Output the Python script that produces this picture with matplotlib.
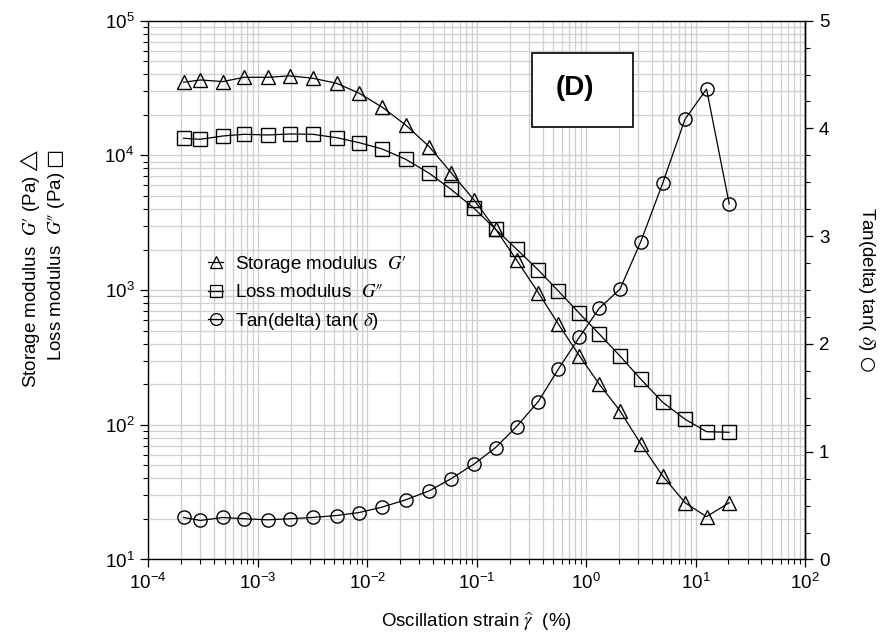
import matplotlib
matplotlib.use("Agg")
import matplotlib.pyplot as plt
from matplotlib.ticker import LogLocator, MultipleLocator, NullFormatter
from matplotlib.patches import Rectangle
from matplotlib.lines import Line2D

plt.rcParams['font.family'] = ['Liberation Sans', 'DejaVu Sans']
plt.rcParams['mathtext.fontset'] = 'stix'

strain = [2.1e-4, 3.0e-4, 4.8e-4, 7.5e-4, 1.23e-3, 1.98e-3, 3.18e-3, 5.26e-3, 8.47e-3,
          0.0137, 0.0225, 0.0369, 0.0583, 0.0946, 0.149, 0.232, 0.366, 0.557, 0.867,
          1.32, 2.04, 3.16, 5.01, 8.01, 12.6, 20.3]
storage = [34900, 36300, 35300, 38000, 38000, 38900, 37400, 34300, 28900, 22800, 16800,
           11600, 7460, 4670, 2830, 1670, 957, 560, 326, 200, 127, 72, 41.7, 26.4, 20.8, 26.4]
loss = [13400, 13170, 13930, 14340, 14170, 14420, 14340, 13530, 12420, 11160, 9350, 7360,
        5600, 4050, 2830, 2010, 1410, 985, 673, 472, 324, 218, 147, 110, 88.9, 88]
tan_delta = [0.390, 0.362, 0.390, 0.378, 0.368, 0.378, 0.390, 0.408, 0.436, 0.486, 0.554,
             0.637, 0.749, 0.885, 1.039, 1.234, 1.466, 1.766, 2.063, 2.332, 2.508, 2.950,
             3.492, 4.085, 4.366, 3.300]

FS = 13.5
fig = plt.figure(figsize=(8.9, 6.4), dpi=100)
ax = fig.add_axes([0.1666, 0.1258, 0.7379, 0.8419])
ax2 = ax.twinx()

mk = dict(color='black', lw=0.9, markerfacecolor='none', markeredgecolor='black',
          markeredgewidth=1.0, markersize=9.5)
l1, = ax.plot(strain, storage, marker='^', **mk)
l2, = ax.plot(strain, loss, marker='s', **mk)
l3, = ax2.plot(strain, tan_delta, marker='o', **mk)

ax.set_xscale('log')
ax.set_yscale('log')
ax.set_xlim(1e-4, 1e2)
ax.set_ylim(1e1, 1e5)
ax2.set_ylim(0, 5)

ax.xaxis.set_major_locator(LogLocator(base=10, numticks=20))
ax.xaxis.set_minor_locator(LogLocator(base=10, subs=range(2, 10), numticks=20))
ax.xaxis.set_minor_formatter(NullFormatter())
ax.yaxis.set_major_locator(LogLocator(base=10, numticks=20))
ax.yaxis.set_minor_locator(LogLocator(base=10, subs=range(2, 10), numticks=20))
ax.yaxis.set_minor_formatter(NullFormatter())
ax2.yaxis.set_major_locator(MultipleLocator(1))
ax2.yaxis.set_minor_locator(MultipleLocator(0.25))

ax.grid(True, which='both', color='#cfcfcf', lw=0.9)
ax.set_axisbelow(True)

for a in (ax, ax2):
    a.tick_params(which='major', direction='out', length=6, width=0.9, labelsize=FS, pad=4)
    a.tick_params(which='minor', direction='out', length=3.5, width=0.8)
    for s in a.spines.values():
        s.set_linewidth(1.0)
ax2.spines['left'].set_visible(False)
ax2.spines['bottom'].set_visible(False)
ax2.spines['top'].set_visible(False)

# Text box (D)
ax2.add_patch(Rectangle((0.5838, 0.8033), 0.1538, 0.1362, transform=ax2.transAxes,
                        facecolor='white', edgecolor='black', lw=1.2, zorder=5))
ax2.text(0.649, 0.8745, '(D)', transform=ax2.transAxes, ha='center', va='center',
         fontsize=20, fontweight='bold', zorder=6)

hmk = dict(color='black', lw=0.9, markerfacecolor='none', markeredgecolor='black',
           markeredgewidth=0.9, markersize=8.5)
handles = [Line2D([], [], marker='^', **hmk), Line2D([], [], marker='s', **hmk),
           Line2D([], [], marker='o', **hmk)]
labels = ["Storage modulus  $G\u2032$", "Loss modulus  $G\u2033$",
          "Tan(delta) tan( $\\delta$)"]
leg = ax2.legend(handles, labels, loc='center left', bbox_to_anchor=(0.066, 0.495),
                 frameon=False, fontsize=FS, handlelength=0.8, handletextpad=0.6,
                 labelspacing=0.5, borderpad=0.4)
leg.set_zorder(6)

fig.text(0.5355, 1 - 622 / 640, "Oscillation strain $\\widehat{\\gamma}$  (%)",
         ha='center', va='center', fontsize=FS)
fig.text(30 / 890, 1 - 268 / 640,
         "Storage modulus  $G\u2032$ (Pa) $\u25B3$",
         rotation=90, ha='center', va='center', fontsize=FS)
fig.text(57 / 890, 1 - 255 / 640,
         "Loss modulus  $G\u2033$ (Pa) $\u25A1$",
         rotation=90, ha='center', va='center', fontsize=FS)
fig.text(866 / 890, 1 - 290 / 640, "Tan(delta) tan( $\\delta$) $\u25CB$",
         rotation=270, ha='center', va='center', fontsize=FS)

fig.savefig('out.png', dpi=100)
